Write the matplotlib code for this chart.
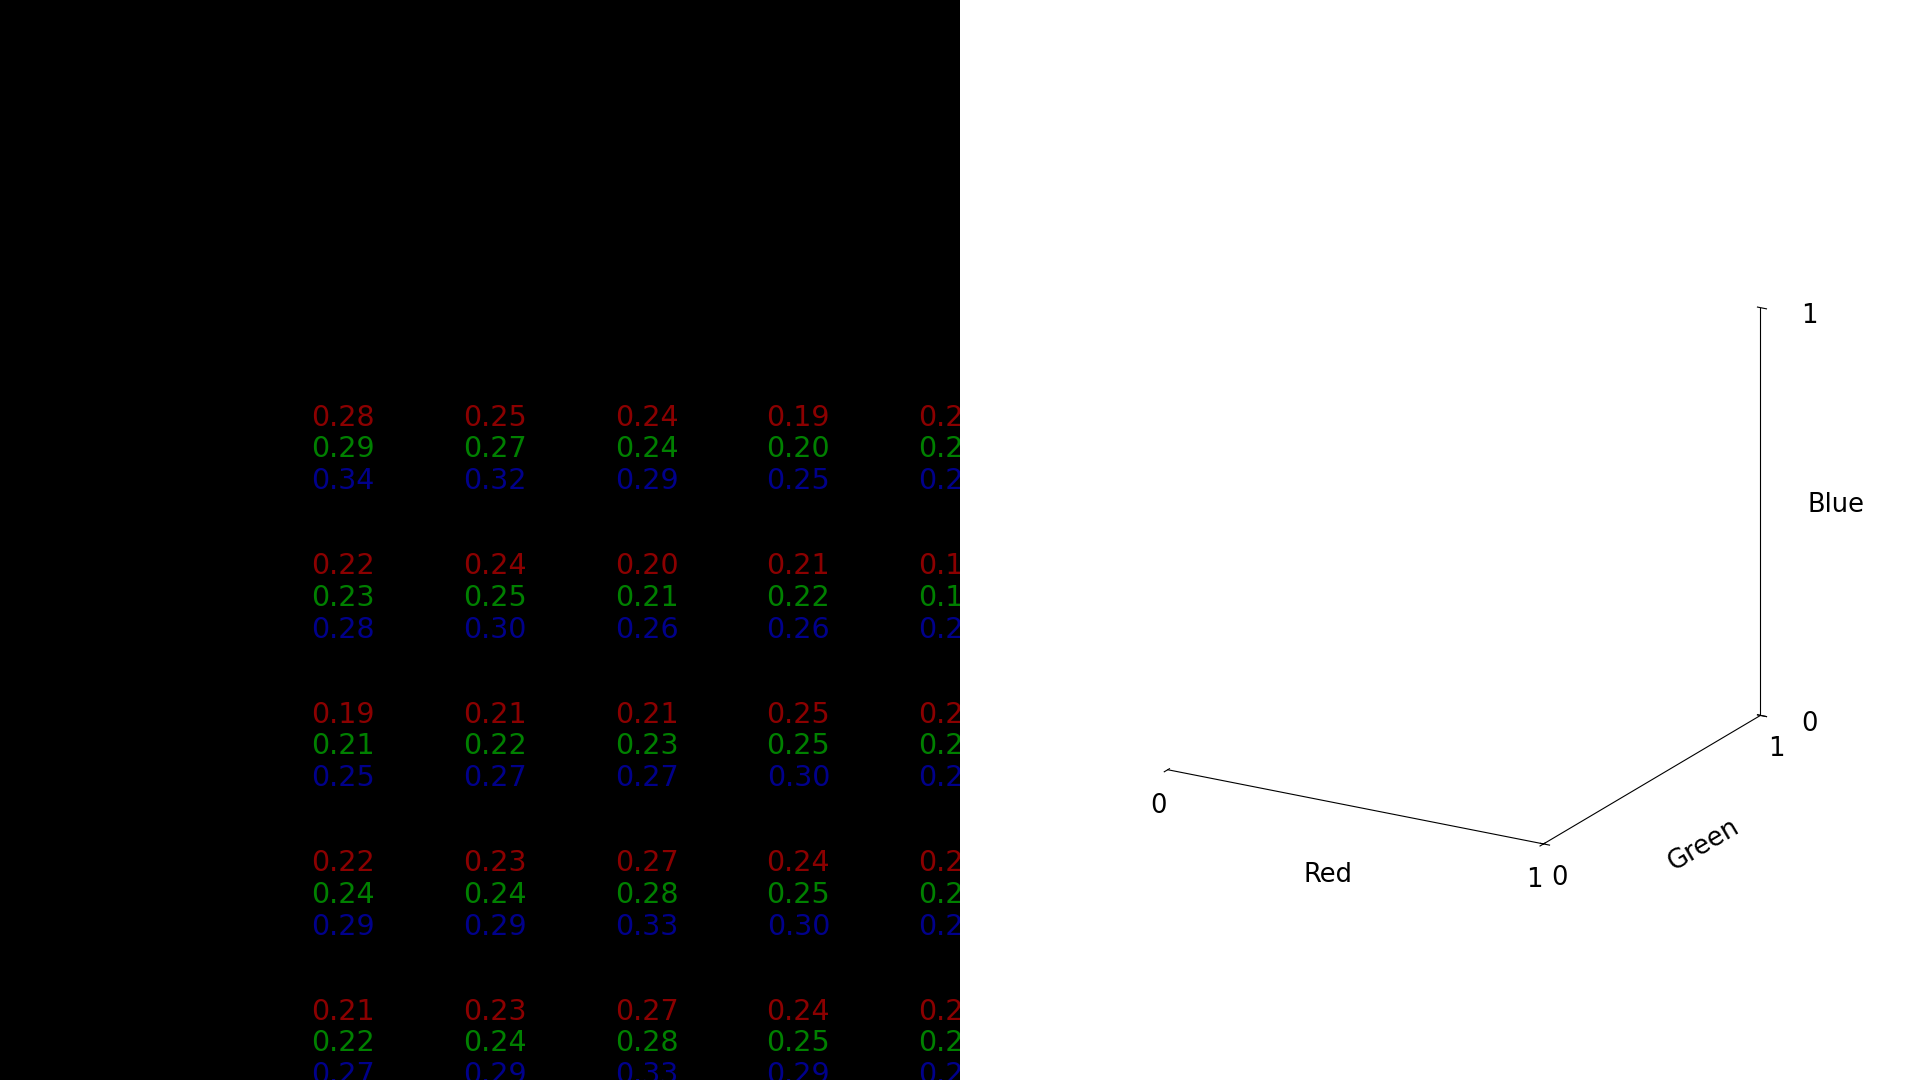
import numpy as np
import matplotlib.pyplot as plt

# mean colour of each cell (last column is cut off)
red = [[0.28, 0.25, 0.24, 0.19, 0.22],
       [0.22, 0.24, 0.20, 0.21, 0.19],
       [0.19, 0.21, 0.21, 0.25, 0.22],
       [0.22, 0.23, 0.27, 0.24, 0.23],
       [0.21, 0.23, 0.27, 0.24, 0.22]]
green = [[0.29, 0.27, 0.24, 0.20, 0.23],
         [0.23, 0.25, 0.21, 0.22, 0.19],
         [0.21, 0.22, 0.23, 0.25, 0.23],
         [0.24, 0.24, 0.28, 0.25, 0.24],
         [0.22, 0.24, 0.28, 0.25, 0.23]]
blue = [[0.34, 0.32, 0.29, 0.25, 0.27],
        [0.28, 0.30, 0.26, 0.26, 0.24],
        [0.25, 0.27, 0.27, 0.30, 0.28],
        [0.29, 0.29, 0.33, 0.30, 0.29],
        [0.27, 0.29, 0.33, 0.29, 0.28]]

axis_names = ['Red', 'Green', 'Blue']
ticks = [0, 1]

fig = plt.figure(figsize=(19.2, 10.8), dpi=100)

# left: the values as text on black
ax = fig.add_axes([0, 0, 0.5, 1])
ax.set_facecolor('black')
for s in ax.spines.values():
    s.set_visible(False)
ax.set_xticks([])
ax.set_yticks([])
ax.set_xlim(-2.26, 4.065)
ax.set_ylim(4.246, -3.026)

dy = 0.214
for i in range(len(red)):
    for j in range(len(red[i])):
        ax.text(j, i - dy, '%.2f' % red[i][j], color='darkred', fontsize=20.5,
                ha='center', va='center', clip_on=True)
        ax.text(j, i, '%.2f' % green[i][j], color='green', fontsize=20.5,
                ha='center', va='center', clip_on=True)
        ax.text(j, i + dy, '%.2f' % blue[i][j], color='darkblue', fontsize=20.5,
                ha='center', va='center', clip_on=True)

# right: empty RGB cube axes
ax3 = fig.add_axes([0.5058, -0.0108, 0.5, 1], projection='3d', proj_type='ortho')
ax3.view_init(elev=20, azim=-60)
ax3.set_box_aspect((1, 1, 1), zoom=0.76)
ax3.set_xlim(0, 1)
ax3.set_ylim(0, 1)
ax3.set_zlim(0, 1)
ax3.set_xticks(ticks)
ax3.set_yticks(ticks)
ax3.set_zticks(ticks)
ax3.set_xlabel(axis_names[0], fontsize=18.5, labelpad=25)
ax3.set_ylabel(axis_names[1], fontsize=18.5, labelpad=28)
ax3.set_zlabel(axis_names[2], fontsize=18.5, labelpad=25)
ax3.tick_params(labelsize=18.5)
ax3.tick_params(axis='x', pad=7.5)
ax3.tick_params(axis='y', pad=7.5)
ax3.tick_params(axis='z', pad=22)
ax3.grid(False)
for a in (ax3.xaxis, ax3.yaxis, ax3.zaxis):
    a.set_pane_color((1, 1, 1, 0))
    a.pane.set_edgecolor((1, 1, 1, 0))
ax3.zaxis.set_ticks_position('upper')
ax3.zaxis.set_label_position('upper')

fig.savefig('out.png')
